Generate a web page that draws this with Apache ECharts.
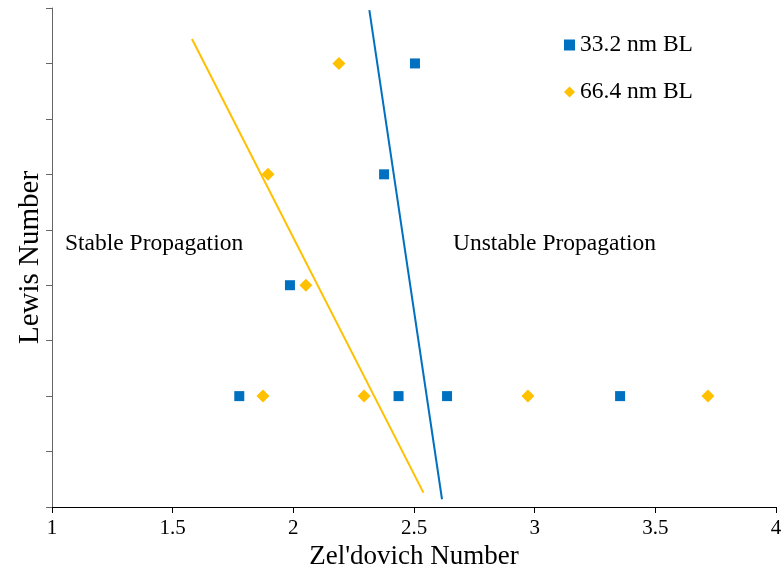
<!DOCTYPE html>
<html>
<head>
<meta charset="utf-8">
<script src="https://cdn.jsdelivr.net/npm/echarts@6/dist/echarts.min.js"></script>
<style>
  html, body { margin: 0; padding: 0; background: #fff; }
  #chart { width: 784px; height: 570px; }
</style>
</head>
<body>
<div id="chart"></div>
<script>
// Zel'dovich number vs Lewis number (level index) for two boundary-layer thicknesses
const seriesNames = ['33.2 nm BL', '66.4 nm BL'];
const bl33 = [[1.776, 2], [2.436, 2], [2.637, 2], [3.354, 2], [1.986, 4], [2.376, 6], [2.504, 8]];
const bl66 = [[1.874, 2], [2.293, 2], [2.972, 2], [3.718, 2], [2.052, 4], [1.895, 6], [2.189, 8]];
// Stability boundaries
const boundary33 = [[2.315, 8.96], [2.616, 0.14]];
const boundary66 = [[1.580, 8.44], [2.539, 0.26]];
const xTicks = { min: 1, max: 4, step: 0.5 };
const yTicks = { min: 0, max: 9, step: 1 };

const BLUE = '#0070C0';
const GOLD = '#FFC000';
const SERIF = '"Liberation Serif", "Times New Roman", serif';

const chart = echarts.init(document.getElementById('chart'));
chart.setOption({
  animation: false,
  textStyle: { fontFamily: SERIF },
  grid: { left: 52, right: 8, top: 8, bottom: 63, containLabel: false, outerBoundsMode: 'none' },
  legend: {
    orient: 'vertical',
    left: 559, top: 28,
    itemWidth: 11, itemHeight: 11,
    itemGap: 23,
    textStyle: { fontFamily: SERIF, fontSize: 23.5, color: '#000' },
    data: [
      { name: seriesNames[0], icon: 'rect' },
      { name: seriesNames[1], icon: 'diamond' }
    ]
  },
  xAxis: {
    type: 'value',
    min: xTicks.min, max: xTicks.max, interval: xTicks.step,
    name: "Zel'dovich Number",
    nameLocation: 'middle',
    nameGap: 33,
    nameTextStyle: { fontFamily: SERIF, fontSize: 27, color: '#000' },
    axisLine: { lineStyle: { color: '#000', width: 1 } },
    axisTick: { show: true, length: 6, lineStyle: { color: '#000' } },
    axisLabel: { fontFamily: SERIF, fontSize: 21, color: '#000', margin: 11 },
    splitLine: { show: false }
  },
  yAxis: {
    type: 'value',
    min: yTicks.min, max: yTicks.max, interval: yTicks.step,
    name: 'Lewis Number',
    nameLocation: 'middle',
    nameGap: 7,
    nameTextStyle: { fontFamily: SERIF, fontSize: 29, color: '#000' },
    axisLine: { show: true, lineStyle: { color: '#666', width: 1 } },
    axisTick: { show: true, length: 6, lineStyle: { color: '#666' } },
    axisLabel: { show: false },
    splitLine: { show: false }
  },
  graphic: [
    { type: 'text', left: 65, top: 232, style: { text: 'Stable Propagation', font: '23.5px ' + SERIF, fill: '#000' } },
    { type: 'text', left: 453, top: 232, style: { text: 'Unstable Propagation', font: '23.5px ' + SERIF, fill: '#000' } }
  ],
  series: [
    {
      name: seriesNames[0], type: 'scatter', symbol: 'rect', symbolSize: 10,
      itemStyle: { color: BLUE, opacity: 1 }, data: bl33, z: 5
    },
    {
      name: seriesNames[1], type: 'scatter', symbol: 'diamond', symbolSize: 13,
      itemStyle: { color: GOLD, opacity: 1 }, data: bl66, z: 5
    },
    {
      name: 'boundary33', type: 'line', data: boundary33, showSymbol: false, symbol: 'none',
      lineStyle: { color: BLUE, width: 2 }, silent: true, z: 3
    },
    {
      name: 'boundary66', type: 'line', data: boundary66, showSymbol: false, symbol: 'none',
      lineStyle: { color: GOLD, width: 2 }, silent: true, z: 3
    }
  ]
});
</script>
</body>
</html>
